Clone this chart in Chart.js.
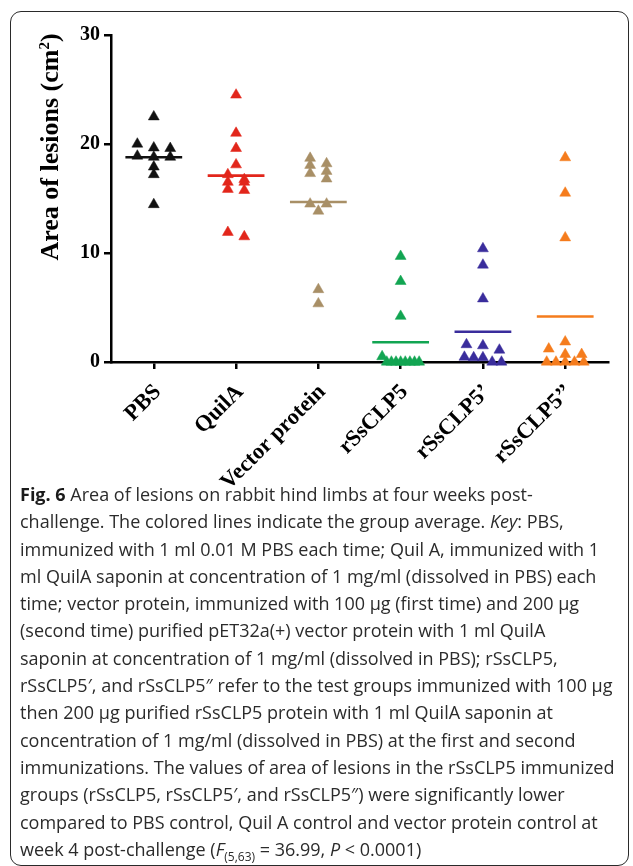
<!DOCTYPE html>
<html>
<head>
<meta charset="utf-8">
<script src="https://cdn.jsdelivr.net/npm/chart.js@4.4.0/dist/chart.umd.min.js"></script>
<style>
  html, body { margin:0; padding:0; background:#fff; width:633px; height:866px; overflow:hidden; }
  .frame { position:absolute; left:10px; top:11px; width:617px; height:853px; border:1.5px solid #2a2a2a; border-radius:11px; }
  .plot { position:absolute; left:0; top:0; width:633px; height:500px; }
  .caption { position:absolute; left:20px; top:481px; font-family:"Open Sans", sans-serif; font-size:18px; line-height:27.3px; color:#2b2b2b; white-space:nowrap; }
  .caption b { font-weight:700; color:#1a1a1a; }
  .caption sub { font-size:12px; line-height:0; }
</style>
</head>
<body>
<div class="frame"></div>
<div class="plot"><canvas id="chart" width="633" height="500"></canvas></div>
<div class="caption">
<b>Fig. 6</b> Area of lesions on rabbit hind limbs at four weeks post-<br>
challenge. The colored lines indicate the group average. <i>Key</i>: PBS,<br>
immunized with 1 ml 0.01 M PBS each time; Quil A, immunized with 1<br>
ml QuilA saponin at concentration of 1 mg/ml (dissolved in PBS) each<br>
time; vector protein, immunized with 100 µg (first time) and 200 µg<br>
(second time) purified pET32a(+) vector protein with 1 ml QuilA<br>
saponin at concentration of 1 mg/ml (dissolved in PBS); rSsCLP5,<br>
rSsCLP5′, and rSsCLP5″ refer to the test groups immunized with 100 µg<br>
then 200 µg purified rSsCLP5 protein with 1 ml QuilA saponin at<br>
concentration of 1 mg/ml (dissolved in PBS) at the first and second<br>
immunizations. The values of area of lesions in the rSsCLP5 immunized<br>
groups (rSsCLP5, rSsCLP5′, and rSsCLP5″) were significantly lower<br>
compared to PBS control, Quil A control and vector protein control at<br>
week 4 post-challenge (<i>F</i><sub>(5,63)</sub> = 36.99, <i>P</i> &lt; 0.0001)
</div>
<script>
// groups on the x axis
const categories = ['PBS', 'QuilA', 'Vector protein', 'rSsCLP5', 'rSsCLP5’', 'rSsCLP5’’'];

// area of lesions (cm2), one value per rabbit
const pbsValues    = [22.5, 20.0, 19.65, 19.6, 18.9, 18.8, 18.8, 17.9, 17.2, 14.45];
const quilaValues  = [24.5, 21.0, 19.6, 18.1, 17.2, 16.75, 16.5, 16.5, 15.85, 15.75, 11.9, 11.5];
const vectorValues = [18.7, 18.2, 18.05, 17.5, 17.3, 16.8, 14.5, 14.5, 13.85, 6.65, 5.35];
const clp5Values   = [9.7, 7.4, 4.2, 0.5, 0, 0, 0, 0, 0, 0, 0, 0];
const clp5pValues  = [10.4, 8.9, 5.8, 1.6, 1.5, 1.1, 0.45, 0.4, 0.4, 0, 0];
const clp5ppValues = [18.75, 15.5, 11.4, 1.85, 1.2, 0.7, 0.7, 0, 0, 0, 0, 0];

const yTicks = [0, 10, 20, 30];
const groupColors = ['#111111', '#e2261b', '#a88f66', '#12a552', '#3a2d9c', '#f57c1d'];

const groups = [pbsValues, quilaValues, vectorValues, clp5Values, clp5pValues, clp5ppValues];

// simple scatter-dot layout: close values share a row and are spread sideways
function spread(values, center){
  const sorted = values.slice().sort((a,b)=>b-a);
  const rows = [];
  sorted.forEach(v => {
    const row = rows[rows.length-1];
    if(row && row[0] - v < 0.6) row.push(v); else rows.push([v]);
  });
  const pts = [];
  rows.forEach(row => {
    const n = row.length;
    const step = n > 1 ? Math.min(0.2, 0.45/(n-1)) : 0;
    row.forEach((v,k) => pts.push({ x: center + (k-(n-1)/2)*step, y: v }));
  });
  return pts;
}
const mean = arr => arr.reduce((s,v)=>s+v,0) / arr.length;

const datasets = [];
groups.forEach((vals, i) => {
  datasets.push({
    data: spread(vals, i),
    pointStyle: 'triangle', pointRadius: 6.3, pointHoverRadius: 6.3,
    backgroundColor: groupColors[i], borderColor: groupColors[i], borderWidth: 0.5,
    clip: false
  });
  const m = mean(vals);
  datasets.push({
    type: 'line', showLine: true,
    data: [{x: i-0.345, y: m}, {x: i+0.345, y: m}],
    borderColor: groupColors[i], borderWidth: 2.6, pointRadius: 0, clip: false
  });
});

// y axis title with superscript, placed like the original
const yTitle = {
  id: 'yTitle',
  afterDraw(chart){
    const ctx = chart.ctx;
    const big = 'bold 26px "Liberation Serif", "Times New Roman", serif';
    const small = 'bold 15px "Liberation Serif", "Times New Roman", serif';
    const a = 'Area of lesions (cm', b = '2', c = ')';
    ctx.save();
    ctx.font = big; const wa = ctx.measureText(a).width, wc = ctx.measureText(c).width;
    ctx.font = small; const wb = ctx.measureText(b).width;
    const w = wa + wb + wc;
    ctx.translate(58, 147);
    ctx.rotate(-Math.PI/2);
    ctx.fillStyle = '#000';
    ctx.textBaseline = 'alphabetic';
    ctx.textAlign = 'left';
    let x = -w/2;
    ctx.font = big; ctx.fillText(a, x, 0); x += wa;
    ctx.font = small; ctx.fillText(b, x, -9); x += wb;
    ctx.font = big; ctx.fillText(c, x, 0);
    ctx.restore();
  }
};

new Chart(document.getElementById('chart'), {
  type: 'scatter',
  data: { datasets },
  plugins: [yTitle],
  options: {
    responsive: false, animation: false, devicePixelRatio: 1,
    layout: { padding: { top: 35, right: 25, left: 0, bottom: 0 } },
    plugins: { legend: { display: false }, tooltip: { enabled: false } },
    scales: {
      x: {
        type: 'linear', min: -0.52, max: 5.52,
        afterBuildTicks: s => { s.ticks = categories.map((_, i) => ({ value: i })); },
        afterFit: s => { s.height = 138; },
        ticks: {
          autoSkip: false, maxRotation: 45, minRotation: 45, padding: 10, labelOffset: 4,
          color: '#000', font: { family: '"Liberation Serif", "Times New Roman", serif', size: 22.5, weight: 'bold' },
          callback: v => categories[v]
        },
        grid: { drawOnChartArea: false, color: '#000', lineWidth: 2.5, tickLength: 7 },
        border: { color: '#000', width: 2.5 }
      },
      y: {
        min: 0, max: 30,
        afterBuildTicks: s => { s.ticks = yTicks.map(v => ({ value: v })); },
        afterFit: s => { s.width = 111; },
        ticks: {
          padding: 4, color: '#000',
          font: { family: '"Liberation Serif", "Times New Roman", serif', size: 20, weight: 'bold' }
        },
        grid: { drawOnChartArea: false, color: '#000', lineWidth: 2.5, tickLength: 7 },
        border: { color: '#000', width: 2.5 }
      }
    }
  }
});
</script>
</body>
</html>
